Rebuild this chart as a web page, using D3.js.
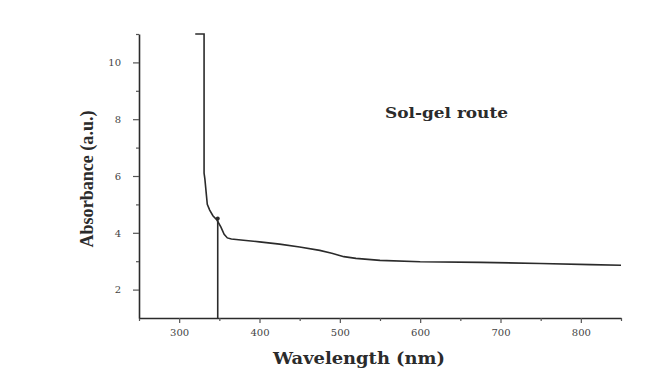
<!DOCTYPE html>
<html>
<head>
<meta charset="utf-8">
<script src="https://cdn.jsdelivr.net/npm/d3@7"></script>
<style>
  body { margin: 0; background: #fff; }
  svg { display: block; }
</style>
</head>
<body>
<div class="chart-section"></div>
<script>
// spectrum
const wavelength = [320, 331, 331, 332, 334, 335, 338, 342, 347, 352, 356, 360, 365, 380, 400, 425, 450, 475, 490, 505, 520, 550, 600, 675, 750, 812, 850];
const absorbance = [11, 11, 6.1, 5.9, 5.3, 5.0, 4.8, 4.6, 4.45, 4.2, 3.95, 3.82, 3.78, 3.74, 3.68, 3.6, 3.5, 3.38, 3.28, 3.16, 3.1, 3.03, 2.98, 2.96, 2.92, 2.88, 2.86];

// vertical drop line (band edge)
const dropWavelength = [348, 348];
const dropAbsorbance = [1, 4.5];

const xTicks = [300, 400, 500, 600, 700, 800];
const xMinorTicks = [250, 350, 450, 550, 650, 750, 850];
const yTicks = [2, 4, 6, 8, 10];
const yMinorTicks = [3, 5, 7, 9, 11];

const width = 671;
const height = 378;
const margin = { top: 34, right: 50, bottom: 60, left: 139 };

const x = d3.scaleLinear().domain([250, 850]).range([margin.left, width - margin.right]);
const y = d3.scaleLinear().domain([1, 11]).range([height - margin.bottom, margin.top]);

const svg = d3
  .select(".chart-section")
  .append("svg")
  .attr("width", width)
  .attr("height", height)
  .attr("viewBox", [0, 0, width, height]);

const ink = "#2b2b2b";

// axes
svg
  .append("g")
  .attr("transform", `translate(0,${y(1)})`)
  .call(d3.axisBottom(x).tickValues(xTicks).tickSize(5).tickPadding(6).tickSizeOuter(0));

svg
  .append("g")
  .attr("transform", `translate(0,${y(1)})`)
  .call(d3.axisBottom(x).tickValues(xMinorTicks).tickSize(3).tickFormat("").tickSizeOuter(0))
  .call((g) => g.select(".domain").remove());

svg
  .append("g")
  .attr("transform", `translate(${x(250)},0)`)
  .call(d3.axisLeft(y).tickValues(yTicks).tickSize(6).tickPadding(12).tickSizeOuter(0));

svg
  .append("g")
  .attr("transform", `translate(${x(250)},0)`)
  .call(d3.axisLeft(y).tickValues(yMinorTicks).tickSize(3).tickFormat("").tickSizeOuter(0))
  .call((g) => g.select(".domain").remove());

svg.selectAll(".domain").attr("stroke", ink).attr("stroke-width", 1.6);
svg.selectAll(".tick line").attr("stroke", "#555").attr("stroke-width", 1.2);
svg
  .selectAll(".tick text")
  .attr("fill", "#444")
  .attr("font-family", "DejaVu Serif")
  .attr("font-size", 10);

// curve
const line = d3
  .line()
  .x((d) => x(d[0]))
  .y((d) => y(d[1]));

svg
  .append("path")
  .datum(wavelength.map((w, i) => [w, absorbance[i]]))
  .attr("fill", "none")
  .attr("stroke", ink)
  .attr("stroke-width", 1.6)
  .attr("d", line);

svg
  .append("path")
  .datum(dropWavelength.map((w, i) => [w, dropAbsorbance[i]]))
  .attr("fill", "none")
  .attr("stroke", ink)
  .attr("stroke-width", 1.6)
  .attr("d", line);

svg
  .append("circle")
  .attr("cx", x(dropWavelength[1]))
  .attr("cy", y(dropAbsorbance[1]))
  .attr("r", 2)
  .attr("fill", ink);

// labels
svg
  .append("text")
  .attr("x", 359)
  .attr("y", 364)
  .attr("text-anchor", "middle")
  .attr("font-family", "DejaVu Serif")
  .attr("font-weight", "bold")
  .attr("font-size", 16)
  .attr("textLength", 172)
  .attr("lengthAdjust", "spacingAndGlyphs")
  .attr("fill", ink)
  .text("Wavelength (nm)");

svg
  .append("text")
  .attr("transform", "translate(93,179) rotate(-90)")
  .attr("text-anchor", "middle")
  .attr("font-family", "Liberation Serif")
  .attr("font-weight", "bold")
  .attr("font-size", 19)
  .attr("textLength", 137)
  .attr("lengthAdjust", "spacingAndGlyphs")
  .attr("fill", ink)
  .text("Absorbance (a.u.)");

svg
  .append("text")
  .attr("x", 385)
  .attr("y", 118)
  .attr("font-family", "DejaVu Serif")
  .attr("font-weight", "bold")
  .attr("font-size", 14)
  .attr("textLength", 123)
  .attr("lengthAdjust", "spacingAndGlyphs")
  .attr("fill", ink)
  .text("Sol-gel route");
</script>
</body>
</html>
